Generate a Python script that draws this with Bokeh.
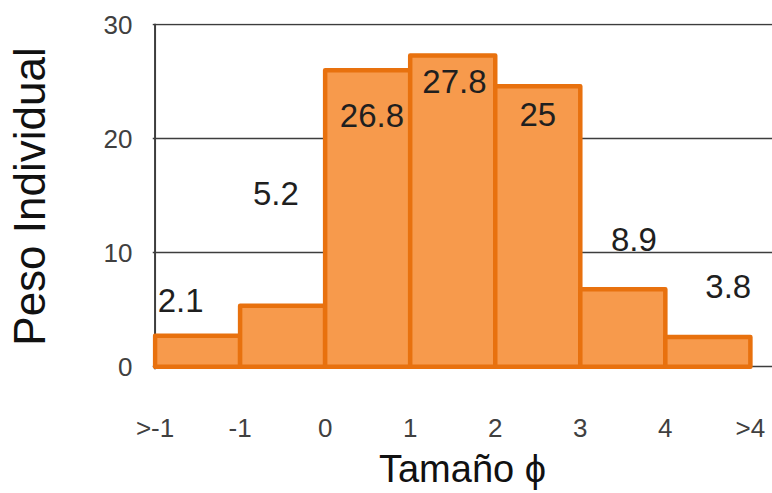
import math
from bokeh.plotting import figure
from bokeh.models import Range1d, FixedTicker, Span, ColumnDataSource
from bokeh.embed import file_html
from bokeh.resources import INLINE
from bokeh.core.properties import value

# ---- data ----
bin_labels = [">-1", "-1", "0", "1", "2", "3", "4", ">4"]
heights = [2.7, 5.35, 26.0, 27.3, 24.6, 6.8, 2.6]
value_labels = ["2.1", "5.2", "26.8", "27.8", "25", "8.9", "3.8"]
y_ticks = [0, 10, 20, 30]
y_title = "Peso Individual"
x_title = "Tamaño ϕ"

# ---- label placement (style, data units relative to bar centre / top) ----
label_dx = [-0.2, -0.08, 0.05, 0.02, 0.0, 0.13, 0.24]
label_dy = [3.07, 9.8, -3.95, -2.28, -2.46, 4.39, 4.39]

FONT = "Liberation Sans"
n = len(heights)
src = ColumnDataSource(dict(
    left=[i for i in range(n)],
    right=[i + 1 for i in range(n)],
    top=heights,
    bottom=[0] * n,
))
lab_src = ColumnDataSource(dict(
    x=[i + 0.5 + label_dx[i] for i in range(n)],
    y=[heights[i] + label_dy[i] for i in range(n)],
    text=value_labels,
))

p = figure(width=772, height=493, output_backend="svg", toolbar_location=None,
           x_range=Range1d(-0.03, 7.26), y_range=Range1d(-0.25, 30.1),
           min_border_left=152, min_border_right=0, min_border_top=23,
           min_border_bottom=124)
p.outline_line_color = None
p.background_fill_color = "white"
p.border_fill_color = "white"

# grid
p.xgrid.visible = False
p.ygrid.ticker = FixedTicker(ticks=y_ticks)
p.ygrid.grid_line_color = "#3d3d3d"
p.ygrid.grid_line_width = 1.6

# left axis line as a span under the bars
p.add_layout(Span(location=0, dimension="height", line_color="#3d3d3d",
                  line_width=2, level="underlay"))

p.quad(source=src, left="left", right="right", top="top", bottom="bottom",
       fill_color="#F79A4C", line_color="#E8710E", line_width=4.5,
       line_join="round")

p.text(source=lab_src, x="x", y="y", text="text",
       text_font=value(FONT), text_font_size="33px",
       text_align="center", text_baseline="middle", text_color="#1f1f1f")

# axes
for ax in (p.xaxis[0], p.yaxis[0]):
    ax.axis_line_color = None
    ax.major_tick_line_color = None
    ax.minor_tick_line_color = None
    ax.major_label_text_font = FONT
    ax.major_label_text_font_size = "26px"
    ax.major_label_text_color = "#404040"
    ax.axis_label_text_font = FONT
    ax.axis_label_text_font_style = "normal"
    ax.axis_label_text_color = "#111111"

p.yaxis.ticker = FixedTicker(ticks=y_ticks)
p.yaxis.major_label_standoff = 14
p.yaxis.axis_label = y_title
p.yaxis.axis_label_text_font_size = "44px"
p.yaxis.axis_label_standoff = 47

p.xaxis.ticker = FixedTicker(ticks=list(range(len(bin_labels))))
p.xaxis.major_label_overrides = {i: lab for i, lab in enumerate(bin_labels)}
p.xaxis.major_label_standoff = 37
p.xaxis.axis_label = x_title
p.xaxis.axis_label_text_font_size = "38px"
p.xaxis.axis_label_standoff = 2

open("out.html", "w").write(file_html(p, INLINE))
